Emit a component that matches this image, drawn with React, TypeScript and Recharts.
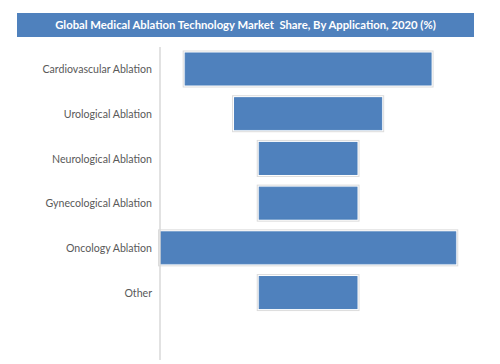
import React from 'react';
import { BarChart, Bar, XAxis, YAxis } from 'recharts';

const categories = [
  'Cardiovascular Ablation',
  'Urological Ablation',
  'Neurological Ablation',
  'Gynecological Ablation',
  'Oncology Ablation',
  'Other',
  '',
];
const shares = [25, 15, 10, 10, 30, 10, null];
const maxShare = 30;

const data = categories.map((name, i) => {
  const v = shares[i];
  return {
    name,
    offset: v == null ? null : (maxShare - v) / 2,
    share: v,
  };
});

const FramedBar = (props: any) => {
  const { x, y, width, height } = props;
  if (!width || !height) return null;
  return (
    <g>
      <rect x={x - 1.5} y={y - 2} width={width + 3} height={height + 4} fill="#ffffff" stroke="#dcdcdc" strokeWidth={1} />
      <rect x={x + 0.5} y={y} width={width - 1} height={height} fill="#4f81bd" stroke="#4a7ebb" strokeWidth={1} />
    </g>
  );
};

export default function App() {
  return (
    <div style={{ position: 'relative', width: 500, height: 364, background: '#fff', fontFamily: 'Lato, sans-serif' }}>
      <style>{'body{margin:0}'}</style>
      <div
        style={{
          position: 'absolute',
          left: 17,
          top: 13,
          width: 457,
          height: 24,
          background: '#4f81bd',
          color: '#fff',
          fontWeight: 'bold',
          fontSize: 11.3,
          lineHeight: '24px',
          textAlign: 'center',
          whiteSpace: 'pre',
        }}
      >
        Global Medical Ablation Technology Market  Share, By Application, 2020 (%)
      </div>
      <BarChart
        width={500}
        height={364}
        data={data}
        layout="vertical"
        margin={{ top: 47, right: 24, bottom: 4, left: 0 }}
        barSize={32}
      >
        <XAxis type="number" domain={[0, 32]} hide />
        <YAxis
          type="category"
          dataKey="name"
          width={160}
          axisLine={{ stroke: '#d9d9d9', strokeWidth: 1.5 }}
          tickLine={false}
          tickSize={0}
          tickMargin={8}
          interval={0}
          tick={{ fill: '#595959', fontSize: 10.6, fontFamily: 'Lato, sans-serif' }}
        />
        <Bar dataKey="offset" stackId="a" fill="transparent" isAnimationActive={false} />
        <Bar dataKey="share" stackId="a" shape={FramedBar} isAnimationActive={false} />
      </BarChart>
    </div>
  );
}
